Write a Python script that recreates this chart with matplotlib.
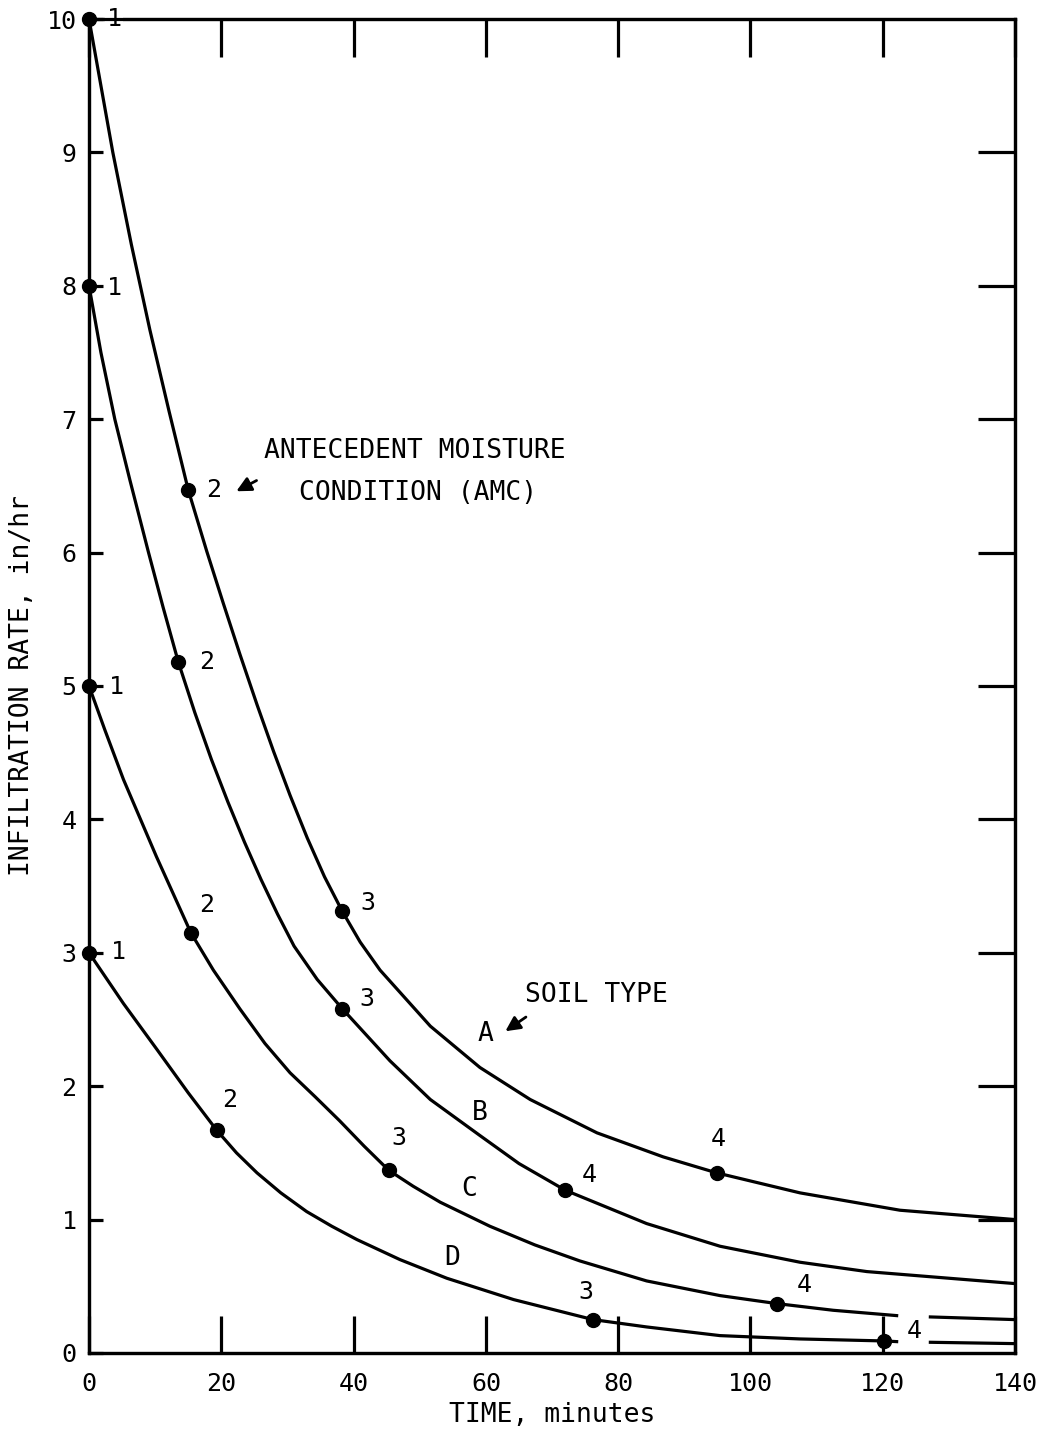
import matplotlib
matplotlib.use('Agg')
import matplotlib.pyplot as plt

plt.rcParams['font.family'] = ['DejaVu Sans Mono']

# Soil type curves (time in minutes, rate in in/hr)
time_a = [0, 3.6, 6.4, 9.2, 12.1, 15.0, 17.8, 20.3, 22.8, 25.4, 27.9, 30.4, 33.0,
          35.6, 38.3, 41.0, 44.0, 51.6, 59.1, 66.7, 76.8, 86.8, 94.9, 107.5, 122.6, 140]
rate_a = [10.0, 9.0, 8.31, 7.67, 7.06, 6.47, 6.01, 5.62, 5.24, 4.86, 4.51, 4.18, 3.86,
          3.57, 3.31, 3.08, 2.87, 2.45, 2.14, 1.90, 1.65, 1.47, 1.35, 1.20, 1.07, 1.0]

time_b = [0, 1.8, 3.9, 6.2, 9.0, 11.2, 13.5, 16.0, 18.5, 21.0, 23.5, 26.0, 28.5,
          31.0, 34.5, 38.3, 45.5, 51.6, 59.1, 65.0, 72.0, 84.3, 95.4, 107.5, 117.6, 140]
rate_b = [8.0, 7.5, 7.0, 6.54, 6.0, 5.59, 5.18, 4.80, 4.45, 4.13, 3.83, 3.55, 3.29,
          3.05, 2.80, 2.58, 2.19, 1.90, 1.63, 1.42, 1.22, 0.97, 0.80, 0.68, 0.61, 0.52]

time_c = [0, 2.4, 5.2, 10.2, 15.4, 18.8, 22.8, 26.6, 30.4, 34.2, 37.9, 41.6, 45.3,
          49.0, 53.1, 60.6, 67.4, 74.2, 84.3, 95.4, 104.0, 112.5, 122.1]
rate_c = [5.0, 4.67, 4.30, 3.72, 3.15, 2.87, 2.58, 2.32, 2.10, 1.92, 1.74, 1.55, 1.37,
          1.25, 1.13, 0.95, 0.81, 0.69, 0.54, 0.43, 0.37, 0.32, 0.28]
time_c_tail = [127.2, 140]
rate_c_tail = [0.27, 0.25]

time_d = [0, 5.2, 10.2, 15.0, 19.3, 22.3, 25.4, 29.0, 32.9, 36.7, 40.5, 47.0, 54.1,
          64.2, 76.2, 84.3, 95.4, 107.5, 120.2, 122.1]
rate_d = [3.0, 2.62, 2.28, 1.95, 1.67, 1.50, 1.35, 1.20, 1.06, 0.95, 0.85, 0.70, 0.56,
          0.40, 0.25, 0.195, 0.13, 0.105, 0.09, 0.085]
time_d_tail = [127.2, 140]
rate_d_tail = [0.08, 0.07]

# Antecedent moisture condition points 1-4 on each curve
amc_labels = ['1', '2', '3', '4']
amc_time_a = [0, 15.0, 38.3, 94.9]
amc_rate_a = [10.0, 6.47, 3.31, 1.35]
amc_time_b = [0, 13.5, 38.3, 72.0]
amc_rate_b = [8.0, 5.18, 2.58, 1.22]
amc_time_c = [0, 15.4, 45.3, 104.0]
amc_rate_c = [5.0, 3.15, 1.37, 0.37]
amc_time_d = [0, 19.3, 76.2, 120.2]
amc_rate_d = [3.0, 1.67, 0.25, 0.09]

x_ticks = [0, 20, 40, 60, 80, 100, 120, 140]
y_ticks = [0, 1, 2, 3, 4, 5, 6, 7, 8, 9, 10]

# label offsets (pixels) of the AMC numbers from their dots
offs_a = [(25, 0), (25, 0), (26, 8), (2, 34)]
offs_b = [(25, -2), (28, 0), (25, 10), (24, 15)]
offs_c = [(27, -1), (16, 28), (10, 32), (27, 19)]
offs_d = [(29, 1), (13, 30), (-7, 28), (30, 10)]

LW = 2.3

fig = plt.figure(figsize=(10.46, 14.41), dpi=100)
ax = fig.add_axes([0.0851, 0.0611, 0.8853, 0.9257])

for t, r in [(time_a, rate_a), (time_b, rate_b), (time_c, rate_c), (time_d, rate_d),
             (time_c_tail, rate_c_tail), (time_d_tail, rate_d_tail)]:
    ax.plot(t, r, color='black', lw=LW, clip_on=False, zorder=3,
            solid_joinstyle='round')

for t, r, offs in [(amc_time_a, amc_rate_a, offs_a), (amc_time_b, amc_rate_b, offs_b),
                   (amc_time_c, amc_rate_c, offs_c), (amc_time_d, amc_rate_d, offs_d)]:
    ax.plot(t, r, 'o', color='black', ms=10, clip_on=False, zorder=4)
    for lab, xx, yy, off in zip(amc_labels, t, r, offs):
        ax.annotate(lab, (xx, yy), xytext=off, textcoords='offset pixels',
                    ha='center', va='center', fontsize=18, zorder=5,
                    bbox=dict(fc='white', ec='none', pad=1) if xx == 0 else None)

# annotations
ax.text(49.3, 6.76, 'ANTECEDENT MOISTURE', ha='center', va='center', fontsize=19)
ax.text(49.7, 6.45, 'CONDITION (AMC)', ha='center', va='center', fontsize=19)
ax.annotate('', xy=(21.9, 6.45), xytext=(25.7, 6.55),
            arrowprops=dict(arrowstyle='-|>', lw=2, color='black', mutation_scale=22))

ax.text(76.7, 2.68, 'SOIL TYPE', ha='center', va='center', fontsize=19)
ax.annotate('', xy=(62.6, 2.40), xytext=(66.4, 2.53),
            arrowprops=dict(arrowstyle='-|>', lw=2, color='black', mutation_scale=22))
for lab, xx, yy in [('A', 60.0, 2.39), ('B', 59.1, 1.80), ('C', 57.5, 1.23), ('D', 54.9, 0.71)]:
    ax.text(xx, yy, lab, ha='center', va='center', fontsize=19)

ax.set_xlim(0, 140)
ax.set_ylim(0, 10)

ax.set_xticks(x_ticks)
ax.set_yticks(y_ticks)
ax.set_yticks([1, 2, 4, 6, 7, 9], minor=True)
ax.tick_params(axis='x', direction='in', length=27, width=LW, top=True,
               labelsize=18, pad=14)
ax.tick_params(axis='y', which='major', direction='in', length=10, width=LW,
               labelsize=18, pad=9)
ax.tick_params(axis='y', which='minor', direction='in', length=27, width=LW)

ax2 = ax.twinx()
ax2.set_ylim(0, 10)
ax2.set_yticks(range(1, 10))
ax2.tick_params(axis='y', direction='in', length=27, width=LW, labelright=False)

for a in (ax, ax2):
    for sp in a.spines.values():
        sp.set_linewidth(LW)

ax.set_xlabel('TIME, minutes', fontsize=19, labelpad=4)
ax.set_ylabel('INFILTRATION RATE, in/hr', fontsize=19, labelpad=8)

fig.savefig('out.png', dpi=100)
